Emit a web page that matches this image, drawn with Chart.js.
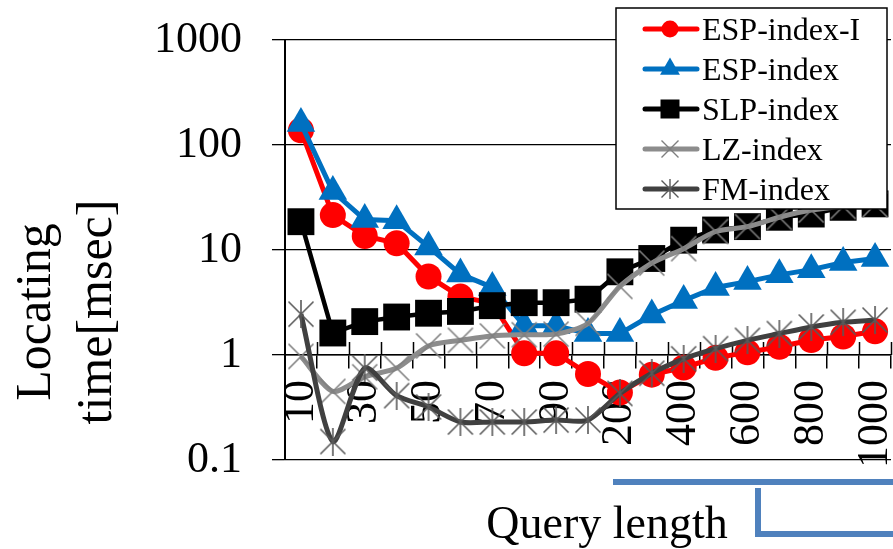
<!DOCTYPE html>
<html><head><meta charset="utf-8">
<script src="https://cdn.jsdelivr.net/npm/chart.js@4/dist/chart.umd.min.js"></script>
<style>html,body{margin:0;padding:0;overflow:hidden;background:#fff;width:893px;height:549px}#wrap{width:910px;height:549px}</style>
</head><body><div id="wrap"><canvas id="c" width="910" height="549"></canvas></div>
<script>
const categories = ['10','20','30','40','50','60','70','80','90','100','200','300','400','500','600','700','800','900','1000'];
const tickLabels = ['10','30','50','70','90','200','400','600','800','1000'];
const yTickValues = [0.1, 1, 10, 100, 1000];
const espIndexI = [138, 21.5, 13.6, 11.6, 5.6, 3.6, 3.1, 1.04, 1.04, 0.66, 0.44, 0.65, 0.76, 0.94, 1.06, 1.2, 1.39, 1.5, 1.68];
const espIndex  = [160, 36, 19.5, 19, 10.7, 5.9, 4.4, 1.9, 1.9, 1.6, 1.6, 2.4, 3.3, 4.4, 5.0, 5.8, 6.5, 7.6, 8.3];
const slpIndex  = [18.6, 1.62, 2.08, 2.3, 2.5, 2.6, 2.95, 3.15, 3.15, 3.4, 6.2, 8.3, 12.4, 15.5, 16.7, 20.5, 22, 25.5, 27.5];
const lzIndex   = [0.97, 0.45, 0.62, 0.75, 1.22, 1.38, 1.52, 1.56, 1.58, 2.0, 4.5, 7.5, 10.3, 15, 16.7, 20.5, 24, 26, 27];
const fmIndex   = [2.45, 0.15, 0.75, 0.41, 0.32, 0.23, 0.23, 0.23, 0.24, 0.24, 0.43, 0.67, 0.92, 1.15, 1.38, 1.6, 1.85, 2.05, 2.15];
const seriesNames = ['ESP-index-I','ESP-index','SLP-index','LZ-index','FM-index'];
const yTitleLines = ['Locating','time[msec]'];
const xTitle = 'Query length';

const SERIF = "'Liberation Serif','Times New Roman',serif";

function crossMarker(size, color, lw, star) {
  const c = document.createElement('canvas');
  c.width = size; c.height = size;
  const g = c.getContext('2d');
  g.strokeStyle = color; g.lineWidth = lw;
  const p = 1.5;
  g.beginPath();
  g.moveTo(p, p); g.lineTo(size - p, size - p);
  g.moveTo(size - p, p); g.lineTo(p, size - p);
  if (star) { g.moveTo(size / 2, 0); g.lineTo(size / 2, size); }
  g.stroke();
  return c;
}
const xMark = crossMarker(28, '#7F7F7F', 1.6, false);
const starMark = crossMarker(28, '#595959', 1.6, true);
const xMarkSmall = crossMarker(20, '#7F7F7F', 1.4, false);
const starMarkSmall = crossMarker(20, '#595959', 1.4, true);

const legendMarks = [
  {type:'circle', color:'#FF0000', size:8.5},
  {type:'triangle', color:'#0070C0', size:11.5},
  {type:'rect', color:'#000000', size:9.5},
  {type:'image', img:xMarkSmall},
  {type:'image', img:starMarkSmall}
];

function zeroPad(s) { s.paddingLeft = 0; s.paddingRight = 0; s.paddingTop = 0; s.paddingBottom = 0; }

const decor = {
  id: 'decor',
  beforeDatasetsDraw(chart) {
    const {ctx, scales: {x, y}} = chart;
    const y0 = y.getPixelForValue(1);
    const n = categories.length;
    const w = (x.right - x.left) / n;
    ctx.save();
    ctx.strokeStyle = '#000'; ctx.lineWidth = 1.5;
    ctx.beginPath();
    for (let i = 1; i <= n; i++) {
      const px = Math.round(x.left + i * w) + 0.5;
      ctx.moveTo(px, y0 - 13); ctx.lineTo(px, y0);
    }
    ctx.stroke();
    ctx.restore();
  },
  afterDraw(chart) {
    const {ctx} = chart;
    ctx.save();
    ctx.fillStyle = '#000';
    ctx.font = '50px ' + SERIF;
    ctx.textAlign = 'center'; ctx.textBaseline = 'alphabetic';
    const ycenter = 312;
    [50, 111].forEach((bx, i) => {
      ctx.save(); ctx.translate(bx, ycenter); ctx.rotate(-Math.PI / 2);
      ctx.fillText(yTitleLines[i], 0, 0); ctx.restore();
    });
    ctx.font = '46px ' + SERIF;
    ctx.fillText(xTitle, 607, 538);

    const lx = 616, ly = 8, lw = 271, lh = 201;
    ctx.fillStyle = '#fff'; ctx.fillRect(lx, ly, lw, lh);
    ctx.strokeStyle = '#000'; ctx.lineWidth = 1.5; ctx.strokeRect(lx, ly, lw, lh);
    chart.data.datasets.forEach((ds, i) => {
      const cy = 29 + 40 * i;
      ctx.strokeStyle = ds.borderColor; ctx.lineWidth = 5; ctx.lineCap = 'round';
      ctx.beginPath(); ctx.moveTo(645, cy); ctx.lineTo(697, cy); ctx.stroke();
      const m = legendMarks[i];
      const mx = 670;
      ctx.fillStyle = m.color || '#000';
      if (m.type === 'circle') { ctx.beginPath(); ctx.arc(mx, cy, m.size, 0, Math.PI * 2); ctx.fill(); }
      else if (m.type === 'triangle') {
        const r = m.size;
        ctx.beginPath(); ctx.moveTo(mx, cy - r);
        ctx.lineTo(mx + r * 0.866, cy + r / 2); ctx.lineTo(mx - r * 0.866, cy + r / 2); ctx.closePath(); ctx.fill();
      } else if (m.type === 'rect') { ctx.fillRect(mx - m.size, cy - m.size, 2 * m.size, 2 * m.size); }
      else { ctx.drawImage(m.img, mx - m.img.width / 2, cy - m.img.height / 2); }
      ctx.fillStyle = '#000'; ctx.font = '32px ' + SERIF; ctx.textAlign = 'left';
      ctx.fillText(ds.label, 702, 39.5 + 40 * i);
    });

    ctx.strokeStyle = '#4F81BD'; ctx.lineWidth = 6; ctx.lineCap = 'butt'; ctx.lineJoin = 'miter';
    ctx.beginPath(); ctx.moveTo(613, 482); ctx.lineTo(chart.width, 482); ctx.stroke();
    ctx.beginPath(); ctx.moveTo(758, 488); ctx.lineTo(758, 534); ctx.lineTo(chart.width, 534); ctx.stroke();
    ctx.restore();
  }
};

new Chart(document.getElementById('c'), {
  type: 'line',
  data: {
    labels: categories,
    datasets: [
      {label: seriesNames[0], data: espIndexI, borderColor: '#FF0000', backgroundColor: '#FF0000', borderWidth: 5,
       pointStyle: 'circle', pointRadius: 13, pointBorderWidth: 0, tension: 0, order: 5},
      {label: seriesNames[1], data: espIndex, borderColor: '#0070C0', backgroundColor: '#0070C0', borderWidth: 5,
       pointStyle: 'triangle', pointRadius: 16.5, pointBorderWidth: 0, tension: 0, order: 4},
      {label: seriesNames[2], data: slpIndex, borderColor: '#000000', backgroundColor: '#000000', borderWidth: 4.5,
       pointStyle: 'rect', pointRadius: 19, pointBorderWidth: 0, tension: 0, order: 3},
      {label: seriesNames[3], data: lzIndex, borderColor: '#8C8C8C', backgroundColor: '#8C8C8C', borderWidth: 5,
       pointStyle: xMark, pointRadius: 14, tension: 0.25, order: 2},
      {label: seriesNames[4], data: fmIndex, borderColor: '#404040', backgroundColor: '#404040', borderWidth: 5,
       pointStyle: starMark, pointRadius: 14, tension: 0.25, order: 1}
    ]
  },
  options: {
    responsive: false, animation: false, devicePixelRatio: 1,
    layout: {padding: {left: 0, top: 40, right: 8, bottom: 89}},
    plugins: {legend: {display: false}, tooltip: {enabled: false}},
    scales: {
      x: {
        type: 'category', position: {y: 1}, offset: true,
        afterFit: zeroPad,
        grid: {display: true, offset: true, drawOnChartArea: false, drawTicks: true, tickLength: 13, color: '#000', lineWidth: 1.5},
        border: {display: true, color: '#000', width: 1.5},
        ticks: {autoSkip: false, minRotation: 90, maxRotation: 90, padding: 12, color: '#000',
          font: {size: 44, family: SERIF},
          callback(v, i) { const l = categories[i]; return tickLabels.includes(l) ? l : ''; }}
      },
      y: {
        type: 'logarithmic', min: 0.1, max: 1000, position: 'left',
        afterBuildTicks(s) { s.ticks = yTickValues.map(v => ({value: v})); },
        afterFit(s) { s.width = 285; zeroPad(s); },
        grid: {color: '#000', lineWidth: 1.3, tickLength: 13, drawTicks: true},
        border: {display: true, color: '#000', width: 2},
        ticks: {padding: 30, color: '#000', font: {size: 44, family: SERIF},
          callback(v) { return String(v); }}
      }
    }
  },
  plugins: [decor]
});
</script>
</body></html>
